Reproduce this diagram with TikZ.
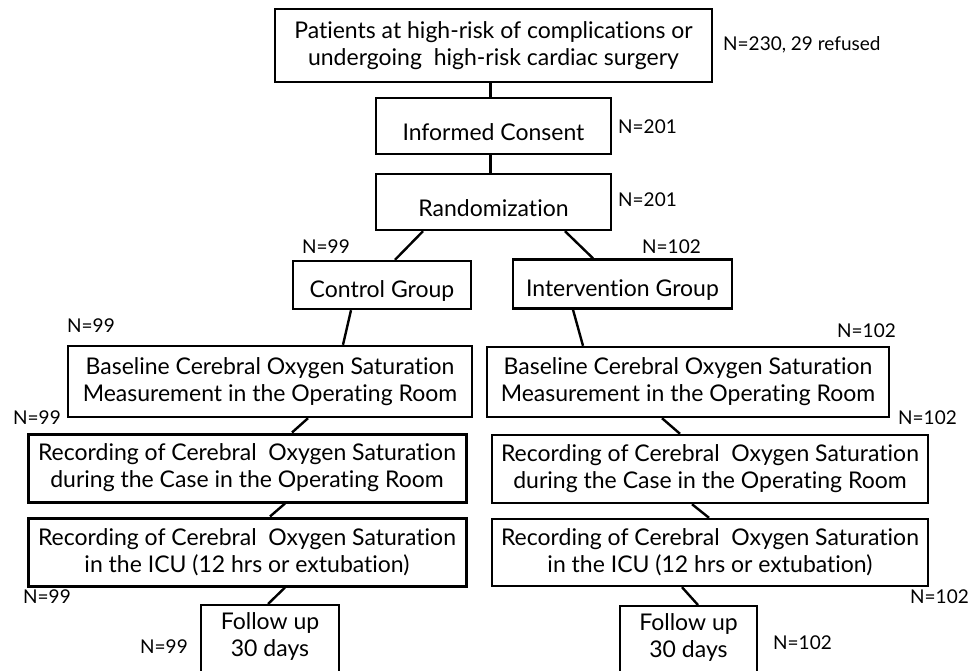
\documentclass[tikz,border=0pt]{standalone}
\usepackage{fontspec}
\setmainfont{Lato}[Ligatures={NoCommon}]
\newcommand{\lowtext}[1]{\raisebox{-6pt}[\height][\depth]{#1}}
\begin{document}
\begin{tikzpicture}[x=1pt,y=-1pt,
  box/.style={draw, line width=2.4pt, inner sep=0pt, align=center, font=\fontsize{23}{27}\selectfont},
  heavybox/.style={box, line width=3pt},
  lab/.style={font=\fontsize{19}{22}\selectfont, inner sep=0pt, anchor=west},
  conn/.style={line width=2.4pt}]
\clip (0,0) rectangle (970,670);
\fill[white] (0,0) rectangle (970,670);
% boxes
\node[box, minimum width=437, minimum height=73] (top) at (493.5,45.5) {Patients at high-risk of complications or\\undergoing\ \ high-risk cardiac surgery};
\node[box, minimum width=235, minimum height=56] (cons) at (493.5,126) {\lowtext{Informed Consent}};
\node[box, minimum width=235, minimum height=56] (rand) at (493.5,202) {\lowtext{Randomization}};
\node[box, minimum width=178, minimum height=48] (ctrl) at (382,285) {\lowtext{Control Group}};
\node[box, minimum width=219, minimum height=49] (intv) at (622.5,284) {\lowtext{Intervention Group}};
\node[box, minimum width=404, minimum height=71] (lbase) at (270,381.5) {Baseline Cerebral Oxygen Saturation\\Measurement in the Operating Room};
\node[box, minimum width=402, minimum height=70] (rbase) at (688,382) {Baseline Cerebral Oxygen Saturation\\Measurement in the Operating Room};
\node[heavybox, minimum width=438, minimum height=68] (lrec1) at (247,468) {Recording of Cerebral\ \ Oxygen Saturation\\during the Case in the Operating Room};
\node[box, minimum width=436, minimum height=68] (rrec1) at (710,469) {Recording of Cerebral\ \ Oxygen Saturation\\during the Case in the Operating Room};
\node[heavybox, minimum width=438, minimum height=68] (lrec2) at (247,552) {Recording of Cerebral\ \ Oxygen Saturation\\in the ICU (12 hrs or extubation)};
\node[box, minimum width=436, minimum height=67] (rrec2) at (710,552.5) {Recording of Cerebral\ \ Oxygen Saturation\\in the ICU (12 hrs or extubation)};
\node[box, minimum width=138, minimum height=100, anchor=north,
  label={[anchor=north, yshift=-8pt, inner sep=0pt, align=center, font=\fontsize{23}{27}\selectfont]north:Follow up\\30 days}] (lfol) at (270,604) {};
\node[box, minimum width=137, minimum height=100, anchor=north,
  label={[anchor=north, yshift=-8pt, inner sep=0pt, align=center, font=\fontsize{23}{27}\selectfont]north:Follow up\\30 days}] (rfol) at (688.5,605) {};
% connectors
\draw[conn] ([xshift=-3]top.south) -- ([xshift=-3]cons.north);
\draw[conn] ([xshift=-3]cons.south) -- ([xshift=-3]rand.north);
\draw[conn] ([xshift=-70.5]rand.south) -- ([xshift=13]ctrl.north);
\draw[conn] ([xshift=71.5]rand.south) -- ([xshift=-29.5]intv.north);
\draw[conn] ([xshift=-31]ctrl.south) -- ([xshift=73]lbase.north);
\draw[conn] ([xshift=-49.5]intv.south) -- ([xshift=-105]rbase.north);
\draw[conn] ([xshift=38]lbase.south) -- ([xshift=45]lrec1.north);
\draw[conn] ([xshift=38]lrec1.south) -- ([xshift=23]lrec2.north);
\draw[conn] ([xshift=38]lrec2.south) -- ([xshift=-2]lfol.north);
\draw[conn] ([xshift=-26]rbase.south) -- ([xshift=-30]rrec1.north);
\draw[conn] ([xshift=-18]rrec1.south) -- ([xshift=-1]rrec2.north);
\draw[conn] ([xshift=-28]rrec2.south) -- ([xshift=9.5]rfol.north);
% labels
\node[lab] (n0) at (723,45) {N=230, 29 refused};
\node[lab] (n1) at (618,127) {N=201};
\node[lab] (n2) at (618,200) {N=201};
\node[lab] (n3) at (302,247) {N=99};
\node[lab] (n4) at (642,247) {N=102};
\node[lab] (n5) at (67,326) {N=99};
\node[lab] (n6) at (837,331) {N=102};
\node[lab] (n7) at (13,418) {N=99};
\node[lab] (n8) at (898,418) {N=102};
\node[lab] (n9) at (23,597) {N=99};
\node[lab] (n10) at (910,597) {N=102};
\node[lab] (n11) at (140,647) {N=99};
\node[lab] (n12) at (773,643) {N=102};
\end{tikzpicture}
\end{document}
